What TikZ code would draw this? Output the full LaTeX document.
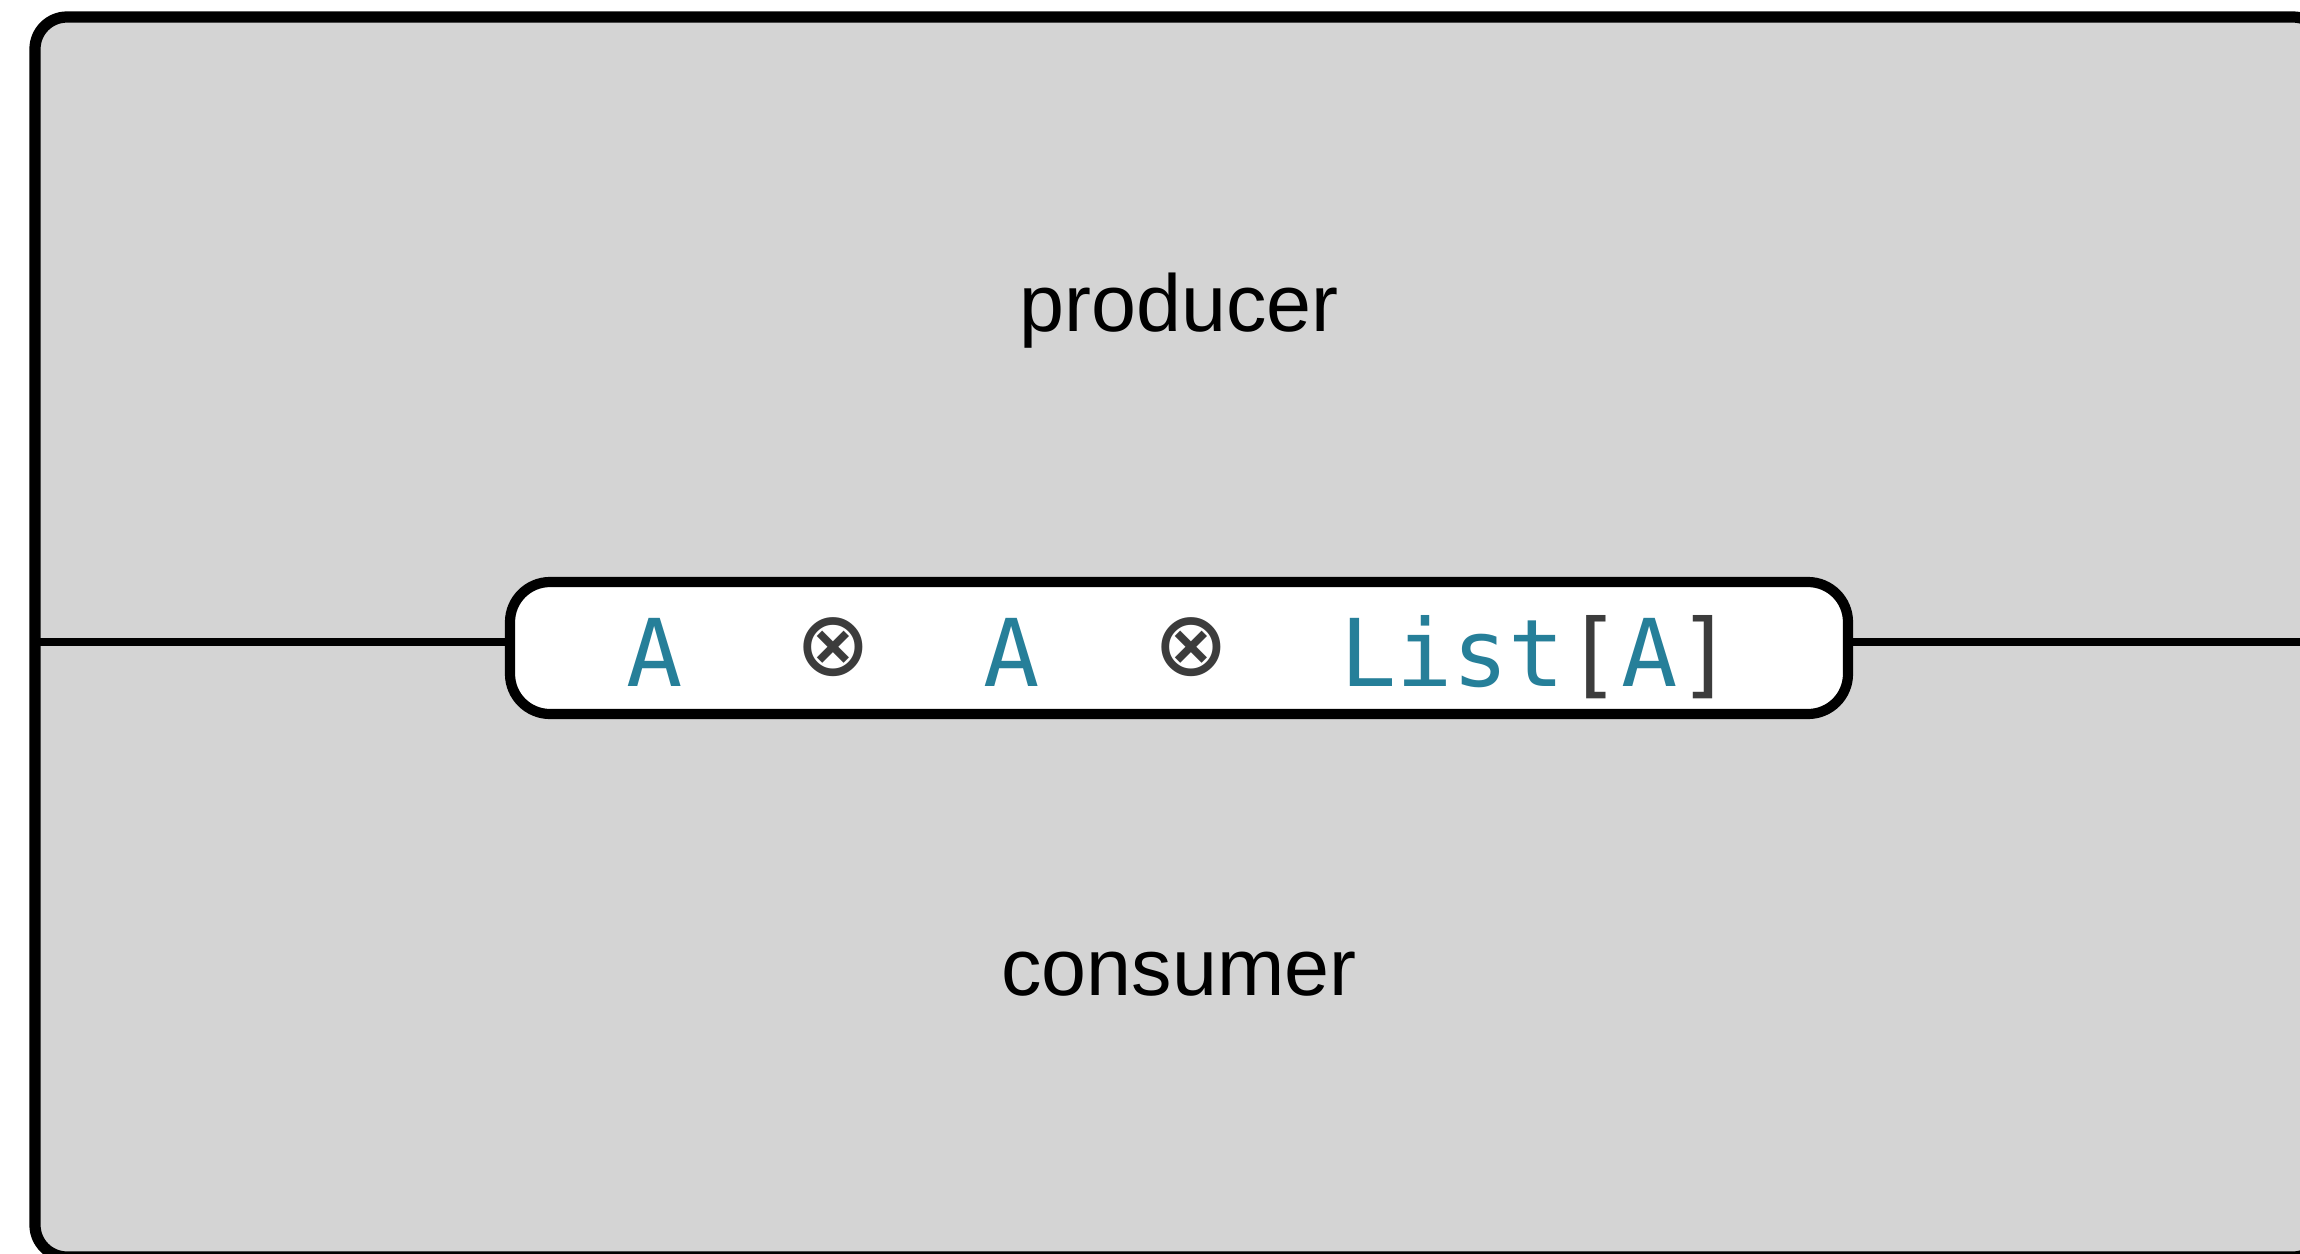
\documentclass[tikz,border=0pt]{standalone}
\usepackage{fontspec}
\setmainfont{Liberation Sans}
\newfontfamily\codefont{DejaVu Sans Mono}
\definecolor{typ}{HTML}{267F99}
\definecolor{op}{HTML}{3C3C3C}
\definecolor{bg}{HTML}{D4D4D4}
\begin{document}
\begin{tikzpicture}[x=0.1mm, y=-0.1mm, line join=round, line cap=round,
	lbl/.style={font=\fontsize{23}{28}\selectfont},
	code/.style={anchor=base, inner sep=0pt, font=\codefont\fontsize{26.6}{32}\selectfont},
	tensor/.style={inner sep=0pt, text=op, font=\codefont\fontsize{32}{36}\selectfont},
	chanbox/.style={draw, fill=white, line width=2.9pt, rounded corners=4mm,
		minimum width=133.8mm, minimum height=13.2mm, inner sep=0pt}]
	\def\W{2300} \def\H{1254} % Kích thước khung
	\useasboundingbox (0,0) rectangle (\W,\H);
	\clip (0,0) rectangle (\W,\H);
	\draw[line width=3.2pt, fill=bg, rounded corners=3.2mm] (35,17) rectangle (2325,1257);
	\coordinate (l) at (35,642); \coordinate (r) at (2325,642);
	\node[chanbox] (chan) at (1179,648) {};
	\draw[line width=2.3pt] (l) -- (l -| chan.west) (chan.east |- r) -- (r);
	\node[lbl] (prod) at (1179,311) {producer};
	\node[lbl] (cons) at (1179,974) {consumer};
	% các kiểu trong kênh
	\node[code, text=typ] (a1) at (655,686) {A};
	\node[tensor] (x1) at (833,650) {⊗};
	\node[code, text=typ] (a2) at (1012,686) {A};
	\node[tensor] (x2) at (1191,650) {⊗};
	\node[code, text=typ] (lst) at (1537,686) {List\textcolor{op}{[}A\textcolor{op}{]}};
\end{tikzpicture}
\end{document}
